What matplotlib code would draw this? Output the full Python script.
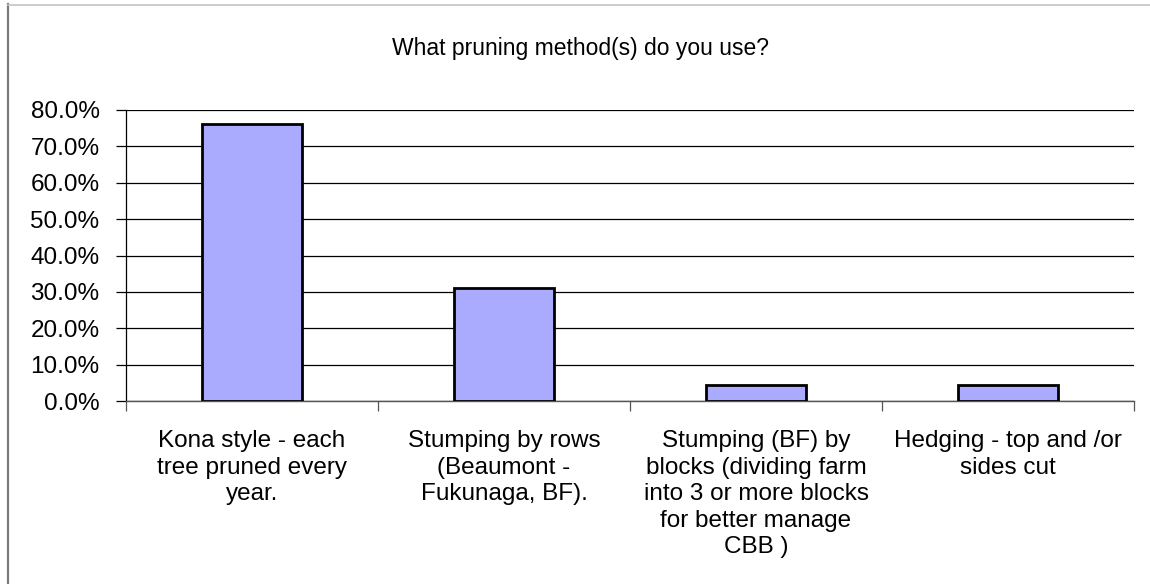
import matplotlib.pyplot as plt
from matplotlib.lines import Line2D
from matplotlib.ticker import FuncFormatter, MultipleLocator

plt.rcParams["font.family"] = ["Liberation Sans", "DejaVu Sans"]

categories = [
    "Kona style - each\ntree pruned every\nyear.",
    "Stumping by rows\n(Beaumont -\nFukunaga, BF).",
    "Stumping (BF) by\nblocks (dividing farm\ninto 3 or more blocks\nfor better manage\nCBB )",
    "Hedging - top and /or\nsides cut",
]
values = [76.1, 31.0, 4.3, 4.3]
title = "What pruning method(s) do you use?"

fig = plt.figure(figsize=(11.5, 5.84), dpi=100)
ax = fig.add_axes([126 / 1150, 183 / 584, 1008 / 1150, 291 / 584])

# outer chart frame (left and top edges visible)
fig.add_artist(Line2D([7.5 / 1150, 7.5 / 1150], [0, 1 - 4 / 584], color="#7a7a7a", lw=1.6))
fig.add_artist(Line2D([7.5 / 1150, 1], [1 - 4.5 / 584, 1 - 4.5 / 584], color="#c4c4c4", lw=1.2))

x = range(len(values))
ax.bar(x, values, width=0.4, color="#aaaaff", edgecolor="black", linewidth=2, zorder=3)

ax.set_xlim(-0.5, len(values) - 0.5)
ax.set_ylim(0, 80)
ax.yaxis.set_major_locator(MultipleLocator(10))
ax.yaxis.set_major_formatter(FuncFormatter(lambda v, p: f"{v:.1f}%"))
ax.grid(axis="y", color="black", lw=0.9, zorder=0)

for s in ["top", "right"]:
    ax.spines[s].set_visible(False)
ax.spines["left"].set_color("black")
ax.spines["left"].set_linewidth(0.9)
ax.spines["bottom"].set_color("#555555")
ax.spines["bottom"].set_linewidth(1.0)

ax.tick_params(axis="y", direction="out", length=7, width=0.9, labelsize=17.5, pad=12)
ax.set_xticks([i - 0.5 for i in range(len(values) + 1)], minor=False)
ax.set_xticklabels([])
ax.tick_params(axis="x", direction="out", length=7, width=0.9, color="#555555")

for i, lab in enumerate(categories):
    ax.text(i, -8.0, lab, ha="center", va="top", fontsize=17.5, linespacing=1.27)

fig.text(580 / 1150, 1 - 49 / 584, title, ha="center", va="center", fontsize=16.5)

fig.savefig("out.png", dpi=100)
